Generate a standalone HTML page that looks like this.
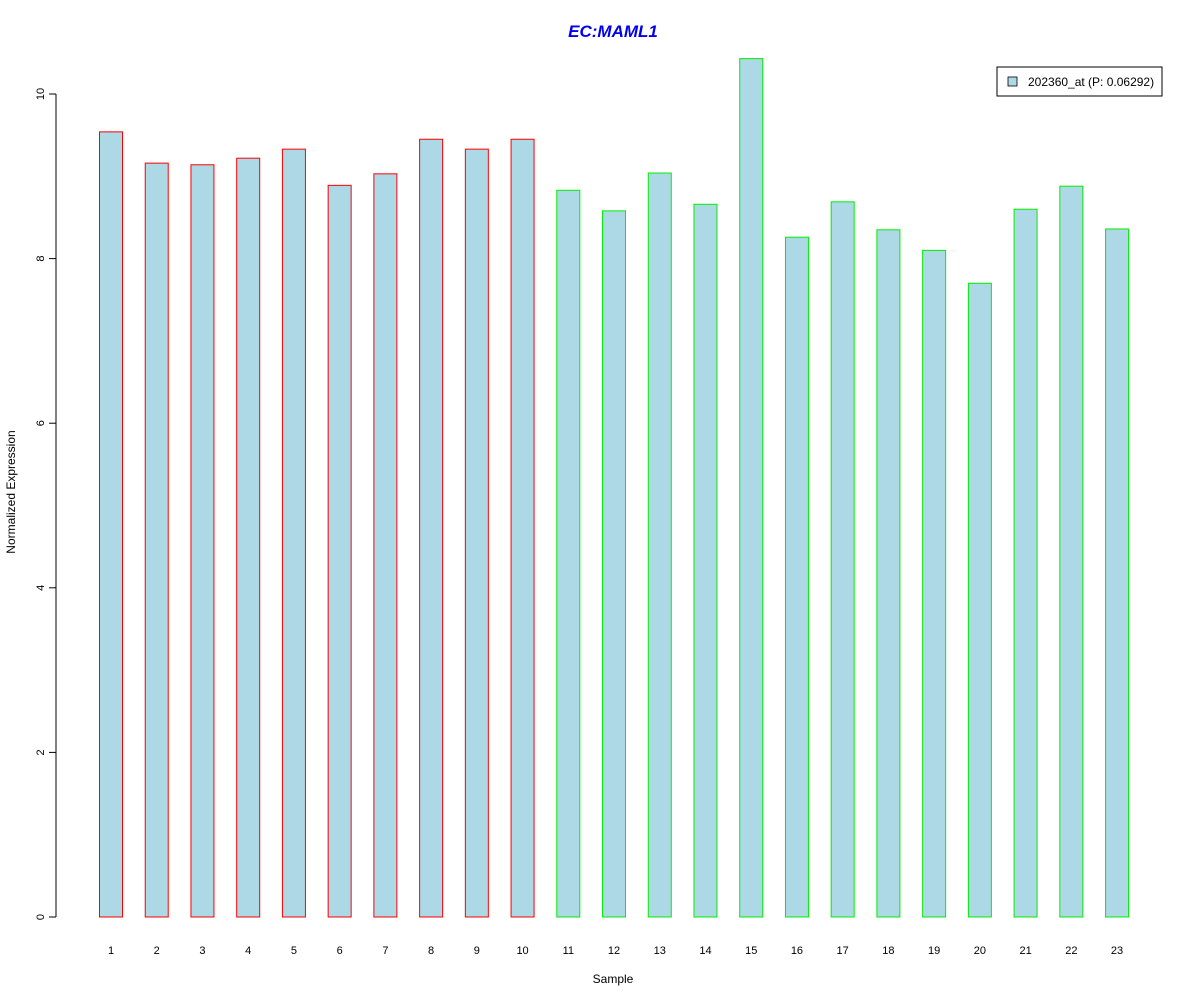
<!DOCTYPE html>
<html><head><meta charset="utf-8"><style>body{margin:0;background:#fff}svg{display:block}text{font-family:"Liberation Sans",Arial,sans-serif}</style></head>
<body>
<svg id="chart" width="1200" height="1000" xmlns="http://www.w3.org/2000/svg">
<text x="613" y="37" text-anchor="middle" font-size="17" font-weight="bold" font-style="italic" fill="#0000ee">EC:MAML1</text>
<g id="bars"></g>
<g id="yaxis"></g>
<g id="xaxis"></g>
<text x="613" y="983" text-anchor="middle" font-size="12">Sample</text>
<text transform="translate(15,492) rotate(-90)" text-anchor="middle" font-size="12">Normalized Expression</text>
<g>
<rect x="997" y="67" width="165" height="29" fill="#fff" stroke="#000"/>
<rect x="1008" y="77" width="9" height="9" fill="#add8e6" stroke="#000" stroke-width="0.8"/>
<text x="1028" y="86" font-size="12">202360_at (P: 0.06292)</text>
</g>
</svg>
<script>
const categories=["1","2","3","4","5","6","7","8","9","10","11","12","13","14","15","16","17","18","19","20","21","22","23"];
const values=[9.54,9.16,9.14,9.22,9.33,8.89,9.03,9.45,9.33,9.45,8.83,8.58,9.04,8.66,10.43,8.26,8.69,8.35,8.10,7.70,8.60,8.88,8.36];
const groups=["a","a","a","a","a","a","a","a","a","a","b","b","b","b","b","b","b","b","b","b","b","b","b"];
const yTicks=[0,2,4,6,8,10];
const NS="http://www.w3.org/2000/svg";
const y=v=>917-v*82.3;
const x=i=>111+i*45.73;
const bars=document.getElementById('bars');
values.forEach((v,i)=>{
 const r=document.createElementNS(NS,'rect');
 
 
 r.setAttribute('x',x(i)-11.5);r.setAttribute('width',23);
 r.setAttribute('y',y(v));r.setAttribute('height',y(0)-y(v));
 r.setAttribute('fill','#add8e6');r.setAttribute('stroke',groups[i]==='a'?'#ff0000':'#00ee00');
 bars.appendChild(r);
});
const ya=document.getElementById('yaxis');
let h='<line x1="56" x2="56" y1="'+y(0)+'" y2="'+y(10)+'" stroke="#000"/>';
yTicks.forEach(t=>{h+='<line x1="49" x2="56" y1="'+y(t)+'" y2="'+y(t)+'" stroke="#000"/><text transform="translate(44,'+y(t)+') rotate(-90)" text-anchor="middle" font-size="11">'+t+'</text>';});
ya.innerHTML=h;
const xa=document.getElementById('xaxis');
let g='';
categories.forEach((c,i)=>{g+='<text x="'+x(i)+'" y="954" text-anchor="middle" font-size="11">'+c+'</text>';});
xa.innerHTML=g;
</script>
</body></html>
